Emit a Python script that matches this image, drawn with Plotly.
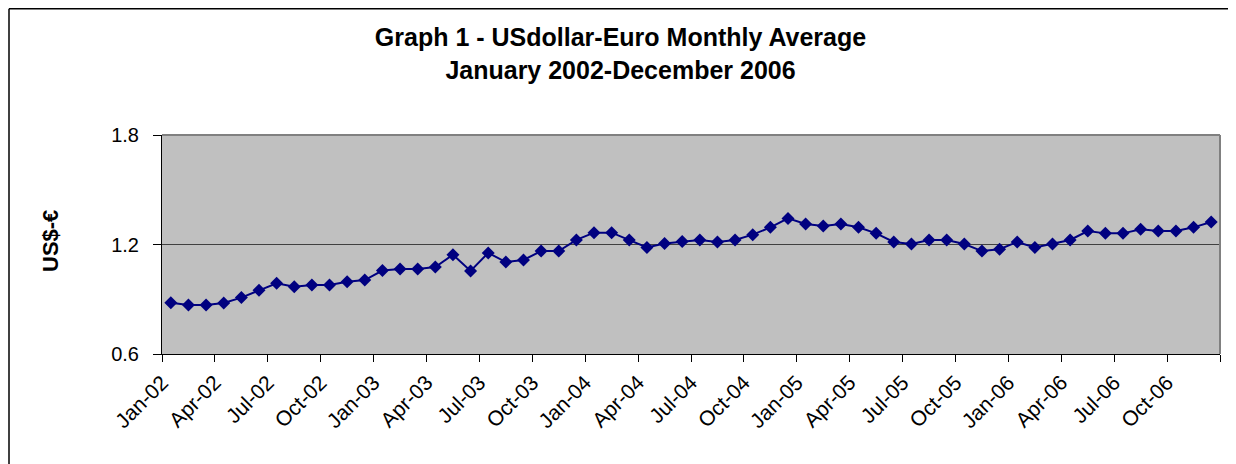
import plotly.graph_objects as go

months = ["Jan", "Feb", "Mar", "Apr", "May", "Jun", "Jul", "Aug", "Sep", "Oct", "Nov", "Dec"]
years = ["02", "03", "04", "05", "06"]
categories = [f"{m}-{y}" for y in years for m in months]

rates = [
    0.881, 0.868, 0.868, 0.879, 0.909, 0.949, 0.987, 0.969, 0.978, 0.978, 0.996, 1.005,
    1.057, 1.066, 1.066, 1.077, 1.144, 1.055, 1.154, 1.104, 1.115, 1.164, 1.164, 1.225,
    1.265, 1.265, 1.225, 1.184, 1.205, 1.216, 1.225, 1.214, 1.225, 1.254, 1.294, 1.343,
    1.312, 1.301, 1.312, 1.294, 1.261, 1.214, 1.203, 1.225, 1.225, 1.203, 1.164, 1.174,
    1.214, 1.184, 1.203, 1.225, 1.274, 1.261, 1.261, 1.283, 1.274, 1.274, 1.294, 1.323,
]

y_ticks = [0.6, 1.2, 1.8]
tick_every = 3

idx = list(range(len(categories)))
tickvals = [i - 0.5 for i in range(0, len(categories) + 1, tick_every)]
ticktext = [categories[i] if i < len(categories) else "" for i in range(0, len(categories) + 1, tick_every)]

fig = go.Figure()
fig.add_trace(go.Scatter(
    x=idx, y=rates, mode="lines+markers",
    line=dict(color="#000080", width=2),
    marker=dict(symbol="diamond", size=10, color="#000080"),
    customdata=categories,
    hovertemplate="%{customdata}: %{y}<extra></extra>",
))

# page has an 8px body margin; figure coordinates are page coordinates - 8
OFF = 8
W, H = 1236 - OFF, 464 - OFF
L, T = 162 - OFF, 135 - OFF
R = W - (1220 - OFF)
B = H - (354 - OFF)
pw, ph = W - L - R, H - T - B

def px_x(p):
    return (p - OFF - L) / pw

def px_y(p):
    return (H - B - (p - OFF)) / ph

fig.update_layout(
    width=W, height=H,
    margin=dict(l=L, r=R, t=T, b=B),
    paper_bgcolor="white",
    plot_bgcolor="#c0c0c0",
    showlegend=False,
    font=dict(family="Liberation Sans, Arial, sans-serif", color="black"),
    title=dict(
        text="<b>Graph 1 - USdollar-Euro Monthly Average</b><br><b>January 2002-December 2006</b>",
        x=(620.5 - OFF) / W, xanchor="center", y=1 - (46 - OFF) / H, yanchor="middle",
        font=dict(size=25, color="black"),
    ),
    xaxis=dict(
        range=[-0.5, len(categories) - 0.5],
        tickmode="array", tickvals=tickvals, ticktext=ticktext,
        tickangle=-45, tickfont=dict(size=21),
        ticks="outside", ticklen=7, tickcolor="black", tickwidth=1,
        showline=True, linecolor="black", linewidth=1,
        showgrid=False, zeroline=False, mirror=False,
    ),
    yaxis=dict(
        range=[0.6, 1.8], tickvals=y_ticks, ticktext=[f"{v:.1f}" for v in y_ticks],
        tickfont=dict(size=20), ticklabelstandoff=10,
        ticks="outside", ticklen=8, tickcolor="black", tickwidth=1,
        showline=True, linecolor="black", linewidth=1,
        showgrid=True, gridcolor="#404040", gridwidth=1,
        zeroline=False,
    ),
    annotations=[
        dict(text="<b>US$-€</b>", textangle=-90, showarrow=False,
             xref="paper", yref="paper", x=px_x(50), y=px_y(241),
             xanchor="center", yanchor="middle", font=dict(size=22, color="black")),
    ],
    shapes=[
        # plot area top/right border (gray)
        dict(type="line", xref="paper", yref="paper", x0=0, x1=1, y0=1, y1=1,
             line=dict(color="#808080", width=2)),
        dict(type="line", xref="paper", yref="paper", x0=1, x1=1, y0=0, y1=1,
             line=dict(color="#808080", width=2)),
        # outer chart frame (left and top)
        dict(type="line", xref="paper", yref="paper", x0=px_x(9), x1=px_x(9), y0=px_y(470), y1=px_y(8.75),
             line=dict(color="black", width=1.5)),
        dict(type="line", xref="paper", yref="paper", x0=px_x(9), x1=px_x(1240), y0=px_y(8.75), y1=px_y(8.75),
             line=dict(color="black", width=1.5)),
    ],
)

fig.write_html("out.html")
